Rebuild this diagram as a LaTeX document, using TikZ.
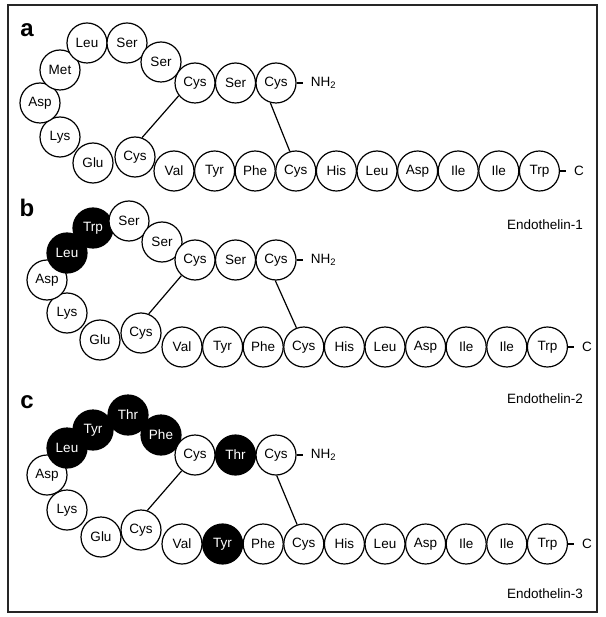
\documentclass[tikz,border=0pt]{standalone}
\usepackage{fontspec}
\setmainfont{Liberation Sans}
\usetikzlibrary{positioning}

\begin{document}
\begin{tikzpicture}[x=1pt, y=-1pt,
every node/.style={inner sep=0pt},
res/.style={circle, draw, line width=1.2pt, fill=white, minimum size=40pt,
        font=\fontsize{13.5}{15}\selectfont},
alt/.style={res, fill=black, text=white},
term/.style={font=\fontsize{13.5}{15}\selectfont},
tag/.style={font=\fontsize{13.5}{15}\selectfont, anchor=east},
panel/.style={font=\fontsize{24}{27}\selectfont\bfseries},
bond/.style={line width=1.2pt}
]
  \useasboundingbox (0,0) rectangle (605,617);
  \draw[line width=1.6pt, black!85] (8,5) rectangle (597,612);

  % straight part, residues 12-21
  \foreach \p/\x/\y/\hl in {a/174/171/res, b/182/347/res, c/182/544/alt}
    \foreach \aa/\s [count=\i from 12] in {Val/res, Tyr/\hl, Phe/res, Cys/res, His/res,
        Leu/res, Asp/res, Ile/res, Ile/res, Trp/res}
      \node[\s] (\p\i) at ({\x+(\i-12)*40.6}, \y) {\aa};

  % a: endothelin-1
  \node[res] (a11) at (135,157) {Cys};
  \node[res] (a10) at (93,163) {Glu};
  \node[res] (a9) at (60,137) {Lys};
  \node[res] (a8) at (40,103) {Asp};
  \node[res] (a7) at (60,70) {Met};
  \node[res] (a6) at (87,43) {Leu};
  \node[res] (a5) at (127,43) {Ser};
  \node[res] (a4) at (161,62) {Ser};
  \node[res] (a3) at (195,83) {Cys};
  \node[res] (a2) at (235.5,83) {Ser};
  \node[res] (a1) at (276,83) {Cys};

  % b: endothelin-2
  \node[res] (b11) at (141,333) {Cys};
  \node[res] (b10) at (100,340) {Glu};
  \node[res] (b9) at (67,313) {Lys};
  \node[res] (b8) at (47,280) {Asp};
  \node[alt] (b7) at (67,253) {Leu};
  \node[alt] (b6) at (93,228) {Trp};
  \node[res] (b5) at (129,221) {Ser};
  \node[res] (b4) at (162,242) {Ser};
  \node[res] (b3) at (195,260) {Cys};
  \node[res] (b2) at (235.5,260) {Ser};
  \node[res] (b1) at (276,260) {Cys};

  % c: endothelin-3
  \node[res] (c11) at (141,530) {Cys};
  \node[res] (c10) at (101,537) {Glu};
  \node[res] (c9) at (67,510) {Lys};
  \node[res] (c8) at (47,475) {Asp};
  \node[alt] (c7) at (67,448) {Leu};
  \node[alt] (c6) at (93,430) {Tyr};
  \node[alt] (c5) at (128,415) {Thr};
  \node[alt] (c4) at (161,435) {Phe};
  \node[res] (c3) at (195,455) {Cys};
  \node[alt] (c2) at (235.5,455) {Thr};
  \node[res] (c1) at (276,455) {Cys};

  % ends of the chains
  \foreach \p in {a,b,c} {
    \node[term, right=14pt of \p1] (\p nh) {NH\textsubscript{2}};
    \node[term, right=14pt of \p21] (\p co) {C};
    \draw[bond, shorten >=8pt] (\p1.east) -- (\p nh.west);
    \draw[bond, shorten >=8pt] (\p21.east) -- (\p co.west);
  }

  % disulfide bridges
  \draw[bond] (a3.218) -- (a11.70) (a1.254) -- (a15.107);
  \draw[bond] (b3.229) -- (b11.68) (b1.268) -- (b15.111);
  \draw[bond] (c3.230) -- (c11.72) (c1.272) -- (c15.109);

  \node[panel] (pa) at (27,30) {a};
  \node[panel] (pb) at (27,208) {b};
  \node[panel] (pc) at (27,402) {c};
  \node[tag] (la) at (583,225) {Endothelin-1};
  \node[tag] (lb) at (583,399) {Endothelin-2};
  \node[tag] (lc) at (583,594) {Endothelin-3};
\end{tikzpicture}
\end{document}
